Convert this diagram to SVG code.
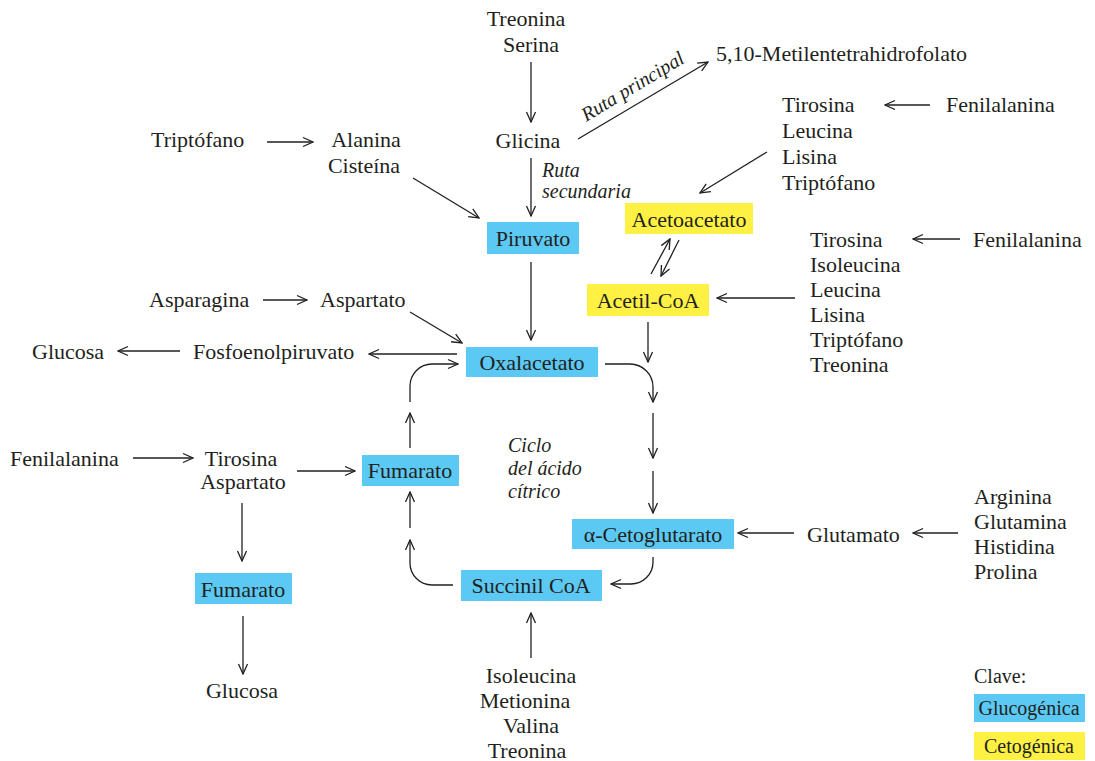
<svg xmlns="http://www.w3.org/2000/svg" width="1095" height="761" viewBox="0 0 1095 761">
<style>
text{font-family:"Liberation Serif","Times New Roman",serif;font-size:22px;fill:#231f20}
.it{font-style:italic;font-size:20px}
.m{text-anchor:middle}
.key{font-size:20px}
.blue{fill:#5bc9f3}
.yel{fill:#fff143}
.c path,.c line{stroke:#231f20;stroke-width:1.3;fill:none;marker-end:url(#ah)}
</style>
<defs>
<marker id="ah" viewBox="0 0 12 12" refX="11" refY="6" markerWidth="12" markerHeight="12" markerUnits="userSpaceOnUse" orient="auto">
<path d="M1,1.5 L11,6 L1,10.5" fill="none" stroke="#231f20" stroke-width="1.3"/>
</marker>
</defs>
<rect width="1095" height="761" fill="#fff"/>

<g id="n-treonina-serina"><text class="m" x="526" y="26">Treonina</text><text class="m" x="531" y="52">Serina</text></g>
<g id="n-glicina"><text class="m" x="528" y="148">Glicina</text></g>
<g id="n-metilen"><text x="716" y="61">5,10-Metilentetrahidrofolato</text></g>
<g id="n-ruta-principal"><text class="it m" transform="translate(636,92) rotate(-31)">Ruta principal</text></g>
<g id="n-ruta-secundaria"><text class="it" x="542" y="177">Ruta</text><text class="it" x="542" y="198">secundaria</text></g>
<g id="n-triptofano"><text x="151" y="147">Triptófano</text></g>
<g id="n-alanina"><text class="m" x="366" y="147">Alanina</text><text class="m" x="364" y="173">Cisteína</text></g>
<g id="n-piruvato"><rect class="blue" x="487" y="222" width="92" height="32"/><text class="m" x="533" y="246">Piruvato</text></g>
<g id="n-grupo1"><text x="782" y="112">Tirosina</text><text x="782" y="138">Leucina</text><text x="782" y="164">Lisina</text><text x="782" y="190">Triptófano</text></g>
<g id="n-fenil1"><text x="946" y="112">Fenilalanina</text></g>
<g id="n-acetoacetato"><rect class="yel" x="625" y="203" width="128" height="31"/><text class="m" x="689" y="227">Acetoacetato</text></g>
<g id="n-grupo2"><text x="810" y="247">Tirosina</text><text x="810" y="272">Isoleucina</text><text x="810" y="297">Leucina</text><text x="810" y="322">Lisina</text><text x="810" y="347">Triptófano</text><text x="810" y="372">Treonina</text></g>
<g id="n-fenil2"><text x="973" y="247">Fenilalanina</text></g>
<g id="n-acetilcoa"><rect class="yel" x="587" y="284" width="122" height="32"/><text class="m" x="648" y="308">Acetil-CoA</text></g>
<g id="n-asparagina"><text x="149" y="307">Asparagina</text></g>
<g id="n-aspartato"><text x="320" y="307">Aspartato</text></g>
<g id="n-glucosa1"><text x="32" y="359">Glucosa</text></g>
<g id="n-fosfo"><text x="193" y="359">Fosfoenolpiruvato</text></g>
<g id="n-oxalacetato"><rect class="blue" x="466" y="347" width="132" height="30"/><text class="m" x="532" y="370">Oxalacetato</text></g>
<g id="n-ciclo"><text class="it" x="508" y="452">Ciclo</text><text class="it" x="508" y="475">del ácido</text><text class="it" x="508" y="498">cítrico</text></g>
<g id="n-fenil3"><text x="10" y="466">Fenilalanina</text></g>
<g id="n-tirosina-aspartato"><text class="m" x="241" y="466">Tirosina</text><text class="m" x="243" y="489">Aspartato</text></g>
<g id="n-fumarato-ciclo"><rect class="blue" x="362" y="455" width="97" height="31"/><text class="m" x="410" y="478">Fumarato</text></g>
<g id="n-fumarato2"><rect class="blue" x="195" y="573" width="97" height="31"/><text class="m" x="243" y="597">Fumarato</text></g>
<g id="n-glucosa2"><text class="m" x="242" y="698">Glucosa</text></g>
<g id="n-cetoglutarato"><rect class="blue" x="572" y="519" width="162" height="30"/><text class="m" x="653" y="542">α-Cetoglutarato</text></g>
<g id="n-glutamato"><text x="807" y="542">Glutamato</text></g>
<g id="n-grupo3"><text x="974" y="504">Arginina</text><text x="974" y="529">Glutamina</text><text x="974" y="554">Histidina</text><text x="974" y="579">Prolina</text></g>
<g id="n-succinil"><rect class="blue" x="461" y="570" width="141" height="31"/><text class="m" x="531" y="593">Succinil CoA</text></g>
<g id="n-grupo4"><text class="m" x="531" y="683">Isoleucina</text><text class="m" x="525" y="708">Metionina</text><text class="m" x="531" y="733">Valina</text><text class="m" x="527" y="758">Treonina</text></g>
<g id="n-clave"><text class="key" x="974" y="683">Clave:</text>
<rect class="blue" x="974" y="694" width="111" height="28"/><text class="key m" x="1029" y="715">Glucogénica</text>
<rect class="yel" x="974" y="732" width="111" height="28"/><text class="key m" x="1029" y="753">Cetogénica</text></g>

<g id="connectors" class="c">
<line x1="531" y1="62" x2="531" y2="122"/>
<line x1="578" y1="139" x2="708" y2="62"/>
<line x1="531" y1="158" x2="531" y2="216"/>
<line x1="267" y1="142" x2="313" y2="142"/>
<line x1="413" y1="178" x2="479" y2="218"/>
<line x1="767" y1="152" x2="700" y2="193"/>
<line x1="930" y1="105" x2="885" y2="105"/>
<line x1="960" y1="239" x2="913" y2="239"/>
<line x1="795" y1="298" x2="717" y2="298"/>
<line x1="651" y1="274" x2="670" y2="239"/>
<line x1="679" y1="240" x2="661" y2="276"/>
<line x1="531" y1="262" x2="531" y2="340"/>
<line x1="648" y1="322" x2="648" y2="362"/>
<line x1="263" y1="300" x2="307" y2="300"/>
<line x1="410" y1="312" x2="462" y2="343"/>
<line x1="457" y1="354" x2="369" y2="354"/>
<line x1="180" y1="351" x2="118" y2="351"/>
<path d="M605,364 H630 A23,23 0 0 1 653,387 V402"/>
<line x1="653" y1="413" x2="653" y2="458"/>
<line x1="653" y1="471" x2="653" y2="513"/>
<path d="M653,557 V562 A22,22 0 0 1 631,584 H611"/>
<path d="M453,585 H432 A22,22 0 0 1 410,563 V540"/>
<line x1="410" y1="528" x2="410" y2="492"/>
<line x1="410" y1="448" x2="410" y2="413"/>
<path d="M410,402 V386 A22,22 0 0 1 432,364 H458"/>
<line x1="133" y1="458" x2="193" y2="458"/>
<line x1="297" y1="471" x2="355" y2="471"/>
<line x1="242" y1="503" x2="242" y2="561"/>
<line x1="243" y1="616" x2="243" y2="674"/>
<line x1="531" y1="658" x2="531" y2="613"/>
<line x1="794" y1="533" x2="738" y2="533"/>
<line x1="958" y1="533" x2="913" y2="533"/>
</g>
</svg>
